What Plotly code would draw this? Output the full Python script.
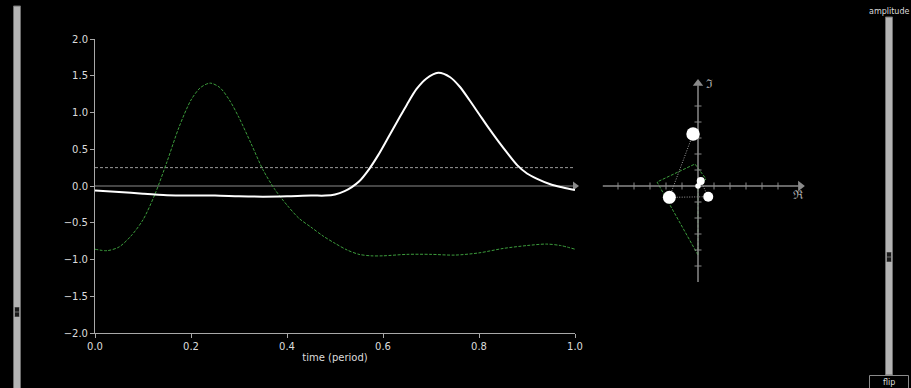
import plotly.graph_objects as go

W, H = 911, 388

# ---- data ----
t_real = [0.0, 0.05, 0.1, 0.15, 0.2, 0.25, 0.3, 0.35, 0.4, 0.45, 0.48, 0.5, 0.52, 0.535,
          0.55, 0.57, 0.59, 0.61, 0.63, 0.65, 0.67, 0.69, 0.715, 0.74, 0.76, 0.78, 0.80,
          0.82, 0.84, 0.86, 0.88, 0.90, 0.92, 0.95, 0.975, 1.0]
v_real = [-0.06, -0.08, -0.105, -0.125, -0.13, -0.13, -0.14, -0.145, -0.14, -0.13, -0.13, -0.115, -0.07, -0.015,
          0.06, 0.22, 0.42, 0.65, 0.88, 1.11, 1.32, 1.46, 1.54, 1.48, 1.35, 1.17, 0.98,
          0.79, 0.61, 0.44, 0.28, 0.17, 0.10, 0.02, -0.02, -0.055]

t_imag = [0.0, 0.025, 0.05, 0.075, 0.1, 0.125, 0.15, 0.175, 0.2, 0.22, 0.24, 0.26, 0.28,
          0.30, 0.325, 0.35, 0.375, 0.40, 0.425, 0.45, 0.475, 0.50, 0.525, 0.55, 0.575,
          0.60, 0.65, 0.70, 0.75, 0.80, 0.85, 0.90, 0.94, 0.97, 1.0]
v_imag = [-0.86, -0.88, -0.83, -0.68, -0.46, -0.11, 0.33, 0.80, 1.17, 1.34, 1.40, 1.34, 1.17,
          0.93, 0.58, 0.22, -0.05, -0.26, -0.44, -0.56, -0.68, -0.78, -0.87, -0.93, -0.95,
          -0.95, -0.93, -0.93, -0.94, -0.91, -0.85, -0.81, -0.79, -0.81, -0.86]

threshold = 0.25
x_ticks = [0.0, 0.2, 0.4, 0.6, 0.8, 1.0]
y_ticks = [2.0, 1.5, 1.0, 0.5, 0.0, -0.5, -1.0, -1.5, -2.0]

# phasor diagram (in tick units)
ph_re = [-0.31, -1.79, 0.64, 0.17, 0.0]
ph_im = [3.25, -0.71, -0.67, 0.31, 0.0]
ph_size = [13.5, 13, 10, 8, 5.5]
poly_re = [0.0, -2.56, -0.19, 0.5, 0.0, 0.0]
poly_im = [-4.31, 0.25, 1.375, 0.44, 0.0, -4.31]
ph_ticks = [-5, -4, -3, -2, -1, 1, 2, 3, 4, 5]

AX = "#a8a8a8"
TXT = "#dcdcdc"
GREEN = "#3c9c3c"


def px(x):
    return x / W


def py(y):
    return 1 - y / H


fig = go.Figure()

# main plot
fig.add_trace(go.Scatter(x=[0, 1], y=[0, 0], mode="lines", line=dict(color="#8a8a8a", width=1),
                         hoverinfo="skip", showlegend=False))
fig.add_trace(go.Scatter(x=[1], y=[0], mode="markers", marker=dict(symbol="triangle-right", size=8, color="#8a8a8a"),
                         hoverinfo="skip", showlegend=False, cliponaxis=False))
fig.add_trace(go.Scatter(x=[0, 1], y=[threshold, threshold], mode="lines",
                         line=dict(color="#9a9a9a", width=1, dash="3px,2px"), showlegend=False))
fig.add_trace(go.Scatter(x=t_imag, y=v_imag, mode="lines",
                         line=dict(color=GREEN, width=1, dash="3px,1.5px", shape="spline", smoothing=0.8),
                         showlegend=False))
fig.add_trace(go.Scatter(x=t_real, y=v_real, mode="lines",
                         line=dict(color="white", width=2, shape="spline", smoothing=0.8),
                         showlegend=False))

# phasor diagram
fig.add_trace(go.Scatter(x=poly_re, y=poly_im, mode="lines", line=dict(color=GREEN, width=1, dash="3px,1.5px"),
                         xaxis="x2", yaxis="y2", showlegend=False))
fig.add_trace(go.Scatter(x=[-5.95, 6.3], y=[0, 0], mode="lines", line=dict(color="#8a8a8a", width=1.5),
                         xaxis="x2", yaxis="y2", showlegend=False))
fig.add_trace(go.Scatter(x=[0, 0], y=[-6.0, 6.3], mode="lines", line=dict(color="#8a8a8a", width=1.5),
                         xaxis="x2", yaxis="y2", showlegend=False))
fig.add_trace(go.Scatter(x=[6.4], y=[0], mode="markers", marker=dict(symbol="triangle-right", size=9, color="#8a8a8a"),
                         xaxis="x2", yaxis="y2", showlegend=False))
fig.add_trace(go.Scatter(x=[0], y=[6.4], mode="markers", marker=dict(symbol="triangle-up", size=9, color="#8a8a8a"),
                         xaxis="x2", yaxis="y2", showlegend=False))
fig.add_trace(go.Scatter(x=ph_ticks, y=[0] * len(ph_ticks), mode="markers",
                         marker=dict(symbol="line-ns", size=5, line=dict(color="#8a8a8a", width=1)),
                         xaxis="x2", yaxis="y2", showlegend=False))
fig.add_trace(go.Scatter(x=[0] * len(ph_ticks), y=ph_ticks, mode="markers",
                         marker=dict(symbol="line-ew", size=5, line=dict(color="#8a8a8a", width=1)),
                         xaxis="x2", yaxis="y2", showlegend=False))
fig.add_trace(go.Scatter(x=ph_re, y=ph_im, mode="lines", line=dict(color="#a0a0a0", width=1, dash="1px,1.5px"),
                         xaxis="x2", yaxis="y2", showlegend=False))
fig.add_trace(go.Scatter(x=ph_re, y=ph_im, mode="markers",
                         marker=dict(size=ph_size, color="#ffffff", opacity=1, line=dict(width=0)),
                         xaxis="x2", yaxis="y2", showlegend=False))

shapes = []
# left slider
shapes.append(dict(type="rect", xref="paper", yref="paper", x0=px(13.5), x1=px(20.5), y0=py(6), y1=py(392),
                   fillcolor="#b4b4b4", line=dict(color="#6e6e6e", width=1)))
shapes.append(dict(type="rect", xref="paper", yref="paper", x0=px(14.5), x1=px(19.5), y0=py(307), y1=py(317),
                   fillcolor="#6e6e6e", line=dict(width=0)))
shapes.append(dict(type="rect", xref="paper", yref="paper", x0=px(15), x1=px(19), y0=py(307.5), y1=py(311.5),
                   fillcolor="#1a1a1a", line=dict(width=0)))
shapes.append(dict(type="rect", xref="paper", yref="paper", x0=px(15), x1=px(19), y0=py(312.5), y1=py(316.5),
                   fillcolor="#1a1a1a", line=dict(width=0)))
# right slider
shapes.append(dict(type="rect", xref="paper", yref="paper", x0=px(885.5), x1=px(892.5), y0=py(17), y1=py(375),
                   fillcolor="#b4b4b4", line=dict(color="#6e6e6e", width=1)))
shapes.append(dict(type="rect", xref="paper", yref="paper", x0=px(886.5), x1=px(891.5), y0=py(252), y1=py(262),
                   fillcolor="#6e6e6e", line=dict(width=0)))
shapes.append(dict(type="rect", xref="paper", yref="paper", x0=px(887), x1=px(891), y0=py(252.5), y1=py(256.5),
                   fillcolor="#1a1a1a", line=dict(width=0)))
shapes.append(dict(type="rect", xref="paper", yref="paper", x0=px(887), x1=px(891), y0=py(257.5), y1=py(261.5),
                   fillcolor="#1a1a1a", line=dict(width=0)))
# flip button
shapes.append(dict(type="rect", xref="paper", yref="paper", x0=px(869.5), x1=px(908.5), y0=py(375.5), y1=py(392),
                   fillcolor="black", line=dict(color="#8a8a8a", width=1)))

annotations = [
    dict(text="amplitude", xref="paper", yref="paper", x=px(889), y=py(11.5), showarrow=False,
         font=dict(size=8, color=TXT), xanchor="center", yanchor="middle"),
    dict(text="flip", xref="paper", yref="paper", x=px(889), y=py(382), showarrow=False,
         font=dict(size=8, color=TXT), xanchor="center", yanchor="middle"),
    dict(text="ℑ", xref="x2", yref="y2", x=0.7, y=6.35, showarrow=False,
         font=dict(size=12, color="#b0b0b0", family="DejaVu Serif"), xanchor="center", yanchor="middle"),
    dict(text="ℜ", xref="x2", yref="y2", x=6.3, y=-0.55, showarrow=False,
         font=dict(size=12, color="#b0b0b0", family="DejaVu Serif"), xanchor="center", yanchor="middle"),
]

fig.update_layout(
    width=W, height=H,
    margin=dict(l=0, r=0, t=0, b=0, pad=0, autoexpand=False),
    paper_bgcolor="black", plot_bgcolor="black",
    font=dict(family="DejaVu Sans", size=10, color=TXT),
    showlegend=False,
    shapes=shapes,
    annotations=annotations,
    xaxis=dict(domain=[px(95), px(575)], range=[0, 1], tickvals=x_ticks, tickformat=".1f",
               showgrid=False, zeroline=False, showline=True, linecolor=AX, linewidth=1,
               ticks="outside", ticklen=4, tickcolor=AX, tickfont=dict(size=10, color=TXT),
               title=dict(text="time (period)", font=dict(size=10, color=TXT), standoff=2),
               anchor="y", automargin=False),
    yaxis=dict(domain=[py(333), py(39)], range=[-2, 2], tickvals=y_ticks, tickformat=".1f",
               showgrid=False, zeroline=False, showline=True, linecolor=AX, linewidth=1,
               ticks="outside", ticklen=4, tickcolor=AX, tickfont=dict(size=10, color=TXT),
               anchor="x", automargin=False),
    xaxis2=dict(domain=[px(590), px(815)], range=[(590 - 698) / 16, (815 - 698) / 16],
                visible=False, anchor="y2", automargin=False),
    yaxis2=dict(domain=[py(300), py(70)], range=[(186 - 300) / 16, (186 - 70) / 16],
                visible=False, anchor="x2", automargin=False),
)

post = ("document.documentElement.style.margin='0';document.body.style.margin='0';"
        "document.body.style.padding='0';document.body.style.background='black';"
        "document.documentElement.style.overflow='hidden';document.body.style.overflow='hidden';")

fig.write_html("out.html", post_script=post, config={"responsive": False, "displayModeBar": False})
